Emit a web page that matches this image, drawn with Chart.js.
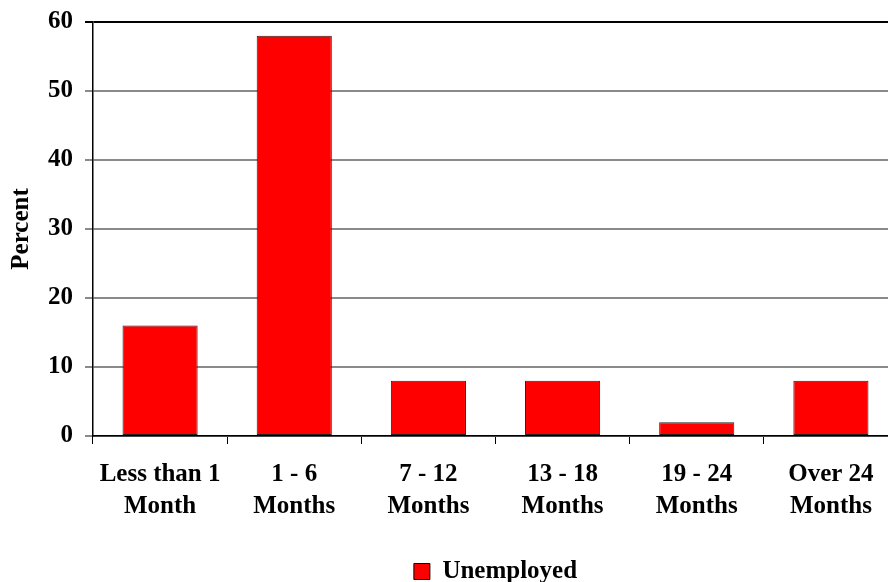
<!DOCTYPE html>
<html lang="en">
<head>
    <meta charset="UTF-8">
    <title>Unemployed - duration</title>
    <script src="https://cdn.jsdelivr.net/npm/chart.js"></script>
    <style>
        html, body { margin: 0; padding: 0; overflow: hidden; background: #fff; }
        #wrap { position: relative; width: 900px; height: 594px; }
    </style>
</head>
<body>
    <div id="wrap"><canvas id="barChart"></canvas></div>

    <script>
        // Chart data
        const categories = [
            ['Less than 1', 'Month'],
            ['1 - 6', 'Months'],
            ['7 - 12', 'Months'],
            ['13 - 18', 'Months'],
            ['19 - 24', 'Months'],
            ['Over 24', 'Months']
        ];
        const unemployed = [16, 58, 8, 8, 2, 8];
        const yTicks = [0, 10, 20, 30, 40, 50, 60];

        const FONT = '"Liberation Serif", "Times New Roman", serif';
        Chart.defaults.font.family = FONT;
        Chart.defaults.font.weight = 'bold';
        Chart.defaults.color = '#000';

        const ctx = document.getElementById('barChart').getContext('2d');
        const chart = new Chart(ctx, {
            type: 'bar',
            data: {
                labels: categories,
                datasets: [{
                    label: 'Unemployed',
                    data: unemployed,
                    backgroundColor: '#ff0000',
                    borderColor: '#222222',
                    borderWidth: 1,
                    borderSkipped: false,
                    barPercentage: 1,
                    categoryPercentage: 0.56
                }]
            },
            options: {
                responsive: true,
                maintainAspectRatio: false,
                animation: false,
                layout: { padding: { top: 22, right: 2, left: 0, bottom: 0 } },
                plugins: {
                    tooltip: { enabled: false },
                    legend: {
                        position: 'bottom',
                        fullSize: false,
                        labels: {
                            boxWidth: 16,
                            boxHeight: 16,
                            padding: 8,
                            font: { size: 25, weight: 'bold', family: FONT },
                            generateLabels: () => [{
                                text: 'Unemployed',
                                fillStyle: '#ff0000',
                                strokeStyle: '#000',
                                lineWidth: 1,
                                fontColor: '#000'
                            }]
                        }
                    }
                },
                scales: {
                    x: {
                        grid: {
                            drawOnChartArea: false,
                            drawTicks: true,
                            tickLength: 8,
                            color: '#000',
                            lineWidth: 1
                        },
                        border: { color: '#000', width: 1.5 },
                        ticks: {
                            padding: 15,
                            maxRotation: 0,
                            autoSkip: false,
                            font: { size: 25, weight: 'bold', lineHeight: 1.28 }
                        },
                        afterFit: (scale) => {
                            scale.height = 115;
                            scale.paddingLeft = 0;
                            scale.paddingRight = 0;
                        }
                    },
                    y: {
                        min: 0,
                        max: 60,
                        afterBuildTicks: (scale) => {
                            scale.ticks = yTicks.map(v => ({ value: v }));
                        },
                        grid: {
                            tickLength: 8,
                            lineWidth: 2,
                            color: (c) => (c.tick && c.tick.value === 60) ? '#000' : '#8a8a8a'
                        },
                        border: { color: '#000', width: 1.5 },
                        ticks: {
                            padding: 12,
                            font: { size: 25, weight: 'bold' }
                        },
                        title: {
                            display: true,
                            text: 'Percent',
                            padding: { top: 7, bottom: 0 },
                            font: { size: 25, weight: 'bold' }
                        },
                        afterFit: (scale) => {
                            scale.width = 93;
                            scale.paddingTop = 0;
                            scale.paddingBottom = 0;
                        }
                    }
                }
            }
        });
    </script>
</body>
</html>
